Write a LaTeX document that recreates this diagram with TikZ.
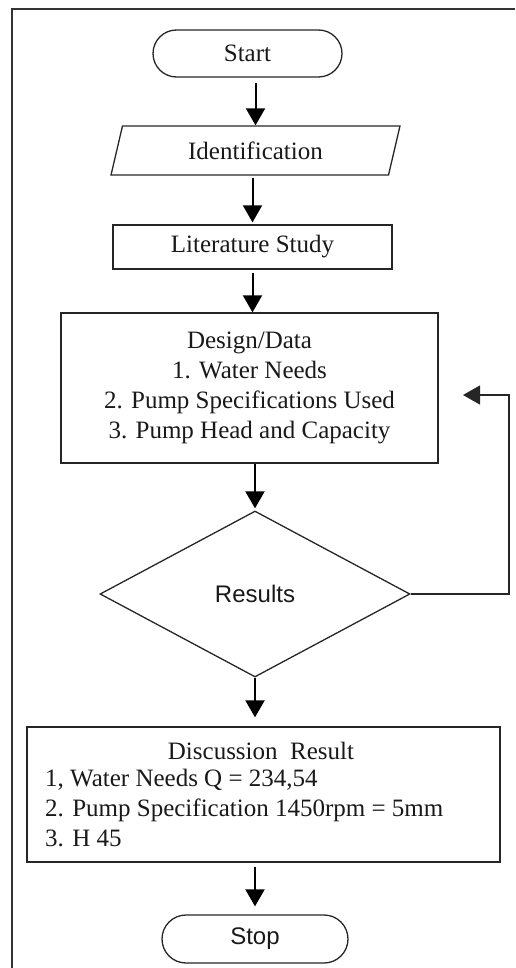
\documentclass[tikz,border=0pt]{standalone}
\usepackage{fontspec}
\setmainfont{Liberation Serif}
\newfontfamily\arialf{Liberation Sans}
\usetikzlibrary{arrows.meta,shapes.geometric,shapes.misc}
\begin{document}
\begin{tikzpicture}[x=1pt,y=-1pt,
  every node/.style={font=\fontsize{25}{30}\selectfont, text=black!90},
  boxstyle/.style={draw=black!85, line width=1.3pt, inner sep=0pt},
  termstyle/.style={boxstyle, rounded rectangle, font=\fontsize{24}{29}\selectfont\arialf},
  flowarrow/.style={line width=2pt, draw=black, -{Triangle[width=19pt,length=17pt]}},
  looparrow/.style={line width=1.3pt, draw=black!85, -{Triangle[width=19pt,length=17pt]}}]
\useasboundingbox (0,0) rectangle (515,968);

% outer frame (top and left only)
\draw[line width=1.5pt, draw=black!80] (515,9) -- (12,9) -- (12,968);

% process nodes
\node[termstyle, minimum width=189pt, minimum height=47pt,
      font=\fontsize{25}{30}\selectfont] (start) at (247.5,53.5) {Start};
\node[boxstyle, trapezium, trapezium left angle=72, trapezium right angle=108,
      trapezium stretches=true, minimum width=289pt, minimum height=49pt] (ident) at (255.5,150.5) {Identification};
\node[boxstyle, rectangle, minimum width=279pt, minimum height=44pt] (lit) at (252.5,247) {Literature Study};
\node[boxstyle, rectangle, minimum width=377pt, minimum height=150pt, align=center] (design) at (249.5,388)
  {Design/Data\\1. Water Needs\\2. Pump Specifications Used\\3. Pump Head and Capacity};
\node[boxstyle, diamond, minimum width=310pt, minimum height=166pt,
      font=\fontsize{24}{29}\selectfont\arialf] (dec) at (255,594) {Results};
\node[boxstyle, rectangle, minimum width=473pt, minimum height=135pt] (disc) at (263.5,794.5) {};
\node (disctitle) at (261,751) {Discussion\ \ Result};
\node[anchor=north west, align=left, inner sep=0pt] (disclist) at (45,769)
  {1, Water Needs Q = 234,54\\2. Pump Specification 1450rpm = 5mm\\3. H 45};
\node[termstyle, minimum width=186pt, minimum height=48pt] (stop) at (255,939) {Stop};

% loop-back corner points
\coordinate (loopr) at (509,395);
\coordinate (looptip) at (463,395);

% connectors
\draw[flowarrow, shorten <=5pt] (ident.north |- start.south) -- (ident.north);
\draw[flowarrow, shorten <=2pt, shorten >=2pt] (lit.north |- ident.south) -- (lit.north);
\draw[flowarrow, shorten <=3pt] (lit.south) -- (lit.south |- design.north);
\draw[flowarrow, shorten >=2pt] (dec.north |- design.south) -- (dec.north);
\draw[flowarrow, shorten >=9pt] (dec.south) -- (dec.south |- disc.north);
\draw[flowarrow, shorten <=4pt, shorten >=8pt] (stop.north |- disc.south) -- (stop.north);
\draw[looparrow] (dec.east) -| (loopr) -- (looptip);
\end{tikzpicture}
\end{document}
